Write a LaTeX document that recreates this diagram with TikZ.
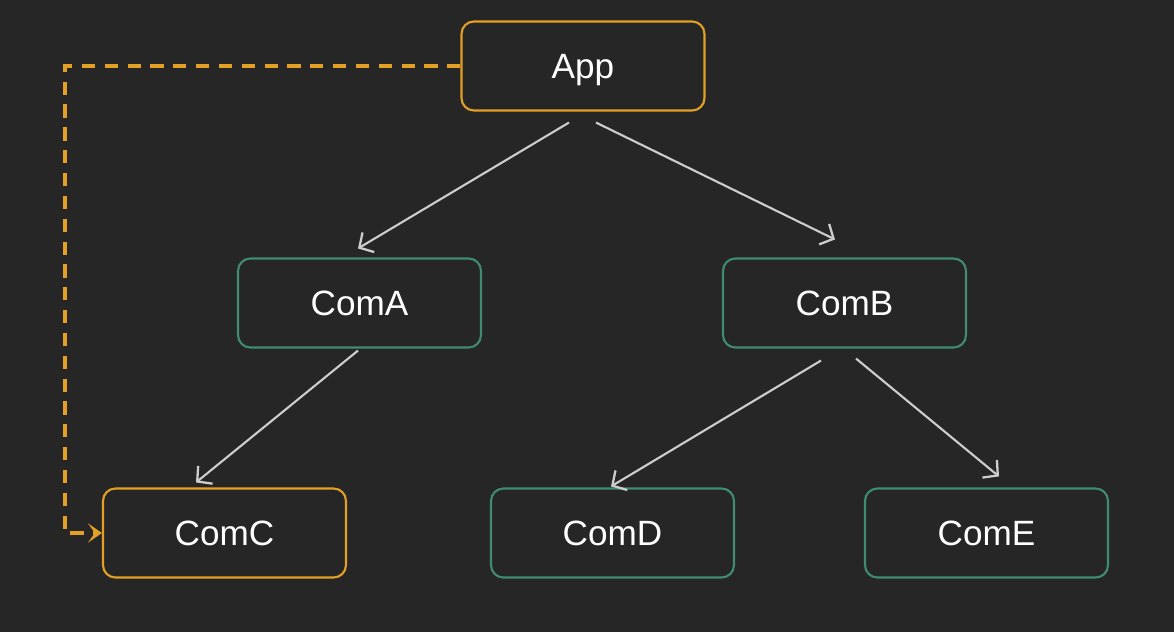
\documentclass[tikz,border=0pt]{standalone}
\usepackage{fontspec}
\setmainfont{Liberation Sans}
\usetikzlibrary{arrows.meta,calc}
\definecolor{bgdark}{HTML}{262626}
\definecolor{appgold}{HTML}{E3A024}
\definecolor{comgreen}{HTML}{3F8C70}
\definecolor{linkgray}{HTML}{CDCDCD}

\begin{document}
\begin{tikzpicture}[x=0.02cm,y=-0.02cm,>=Latex,
  every node/.style={font=\fontsize{20}{24}\selectfont,text=white},
  comp/.style={draw=comgreen,rounded corners=7pt,line width=1.2pt,
    minimum width=4.86cm,minimum height=1.78cm,inner sep=0pt,text depth=0pt},
  link/.style={->,draw=linkgray,line width=1.2pt,
    >={Straight Barb[length=6pt,width=13pt,line width=1.3pt]}},
  lookup/.style={->,draw=appgold,line width=2.3pt,dash pattern=on 7.5pt off 5.5pt,
    >={Stealth[length=8pt,width=11pt,inset=4pt]}}]
  \fill[bgdark] (0,0) rectangle (1174,632);
  \useasboundingbox (0,0) rectangle (1174,632);
  \node[comp,draw=appgold] (app) at (583,66) {App};
  \node[comp] (comA) at (359.5,303) {ComA};
  \node[comp] (comB) at (844.5,303) {ComB};
  \node[comp,draw=appgold] (comC) at (224.5,533) {ComC};
  \node[comp] (comD) at (612.5,533) {ComD};
  \node[comp] (comE) at (986.5,533) {ComE};
  % tree links
  \draw[link] ($(app.south)+(-14,11)$) -- ($(comA.north)+(-1.5,-9)$);
  \draw[link] ($(app.south)+(13,11)$) -- ($(comB.north)+(-9.5,-18)$);
  \draw[link] ($(comA.south)+(-1.5,2)$) -- ($(comC.north)+(-28.5,-5)$);
  \draw[link] ($(comB.south)+(-23.5,12)$) -- ($(comD.north)+(-1.5,-1)$);
  \draw[link] ($(comB.south)+(11.5,10)$) -- ($(comE.north)+(12.5,-11)$);
  % direct hand-off App -> ComC
  \coordinate (bend) at (65,66);
  \draw[lookup] (app.west) -- (bend) |- (comC.west);
\end{tikzpicture}
\end{document}
